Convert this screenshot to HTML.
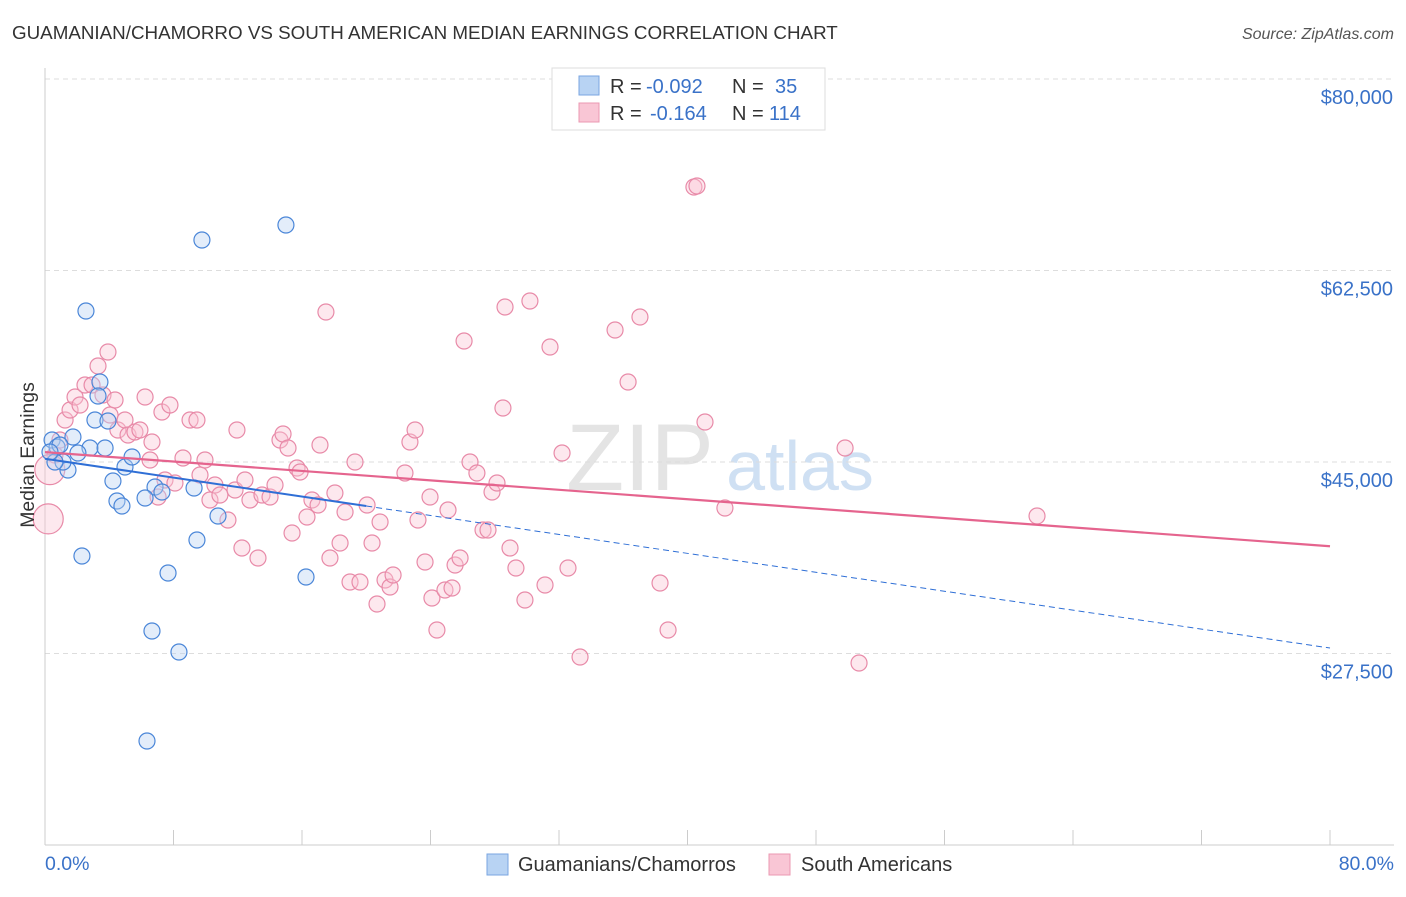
<!DOCTYPE html>
<html><head><meta charset="utf-8"><style>
body{margin:0;background:#fff;font-family:"Liberation Sans",sans-serif;}
svg text{font-family:"Liberation Sans",sans-serif;}
</style></head><body>
<svg id="chart" width="1406" height="892">
<text x="12" y="39" font-size="18.8" fill="#333">GUAMANIAN/CHAMORRO VS SOUTH AMERICAN MEDIAN EARNINGS CORRELATION CHART</text>
<text x="1394" y="39" font-size="16" font-style="italic" fill="#555" text-anchor="end">Source: ZipAtlas.com</text>
<text x="640" y="490" font-size="95" font-family="Liberation Serif" fill="#e4e4e4" text-anchor="middle">ZIP</text>
<text x="800" y="490" font-size="70" fill="#cfe0f3" text-anchor="middle">atlas</text>
<g id="grid"></g><g id="axes"></g><g id="pts"></g><g id="lines"></g>
<text transform="translate(34,455) rotate(-90)" font-size="19.4" fill="#333" text-anchor="middle">Median Earnings</text>
<text x="45" y="870" font-size="19.5" fill="#3a72c8">0.0%</text>
<text x="1394" y="870" font-size="19.5" fill="#3a72c8" text-anchor="end">80.0%</text>
<g>
<rect x="552" y="68" width="273" height="62" fill="#fff" stroke="#ddd"/>
<rect x="579" y="76" width="20" height="19" fill="#b8d3f3" stroke="#7aa6e0"/>
<rect x="579" y="103" width="20" height="19" fill="#f9c6d5" stroke="#eb98b2"/>
<text x="610" y="93" font-size="20" fill="#333">R =<tspan x="646" fill="#3a72c8">-0.092</tspan><tspan x="732">N =</tspan><tspan x="775" fill="#3a72c8">35</tspan></text>
<text x="610" y="120" font-size="20" fill="#333">R =<tspan x="650" fill="#3a72c8">-0.164</tspan><tspan x="732">N =</tspan><tspan x="769" fill="#3a72c8">114</tspan></text>
</g>
<g>
<rect x="487" y="854" width="21" height="21" fill="#b8d3f3" stroke="#7aa6e0"/>
<text x="518" y="871" font-size="20" fill="#333">Guamanians/Chamorros</text>
<rect x="769" y="854" width="21" height="21" fill="#f9c6d5" stroke="#eb98b2"/>
<text x="801" y="871" font-size="20" fill="#333">South Americans</text>
</g>
</svg>
<script>
const yTicks=[80000,62500,45000,27500];
const yTickLabels=["$80,000","$62,500","$45,000","$27,500"];
const xTicks=[0,8,16,24,32,40,48,56,64,72,80];
const bluePx=[[52,440],[57,447],[68,470],[73,437],[63,462],[86,311],[100,382],[95,420],[108,421],[90,448],[78,453],[105,448],[125,467],[113,481],[132,457],[117,501],[122,506],[82,556],[155,487],[162,492],[145,498],[202,240],[286,225],[194,488],[218,516],[197,540],[168,573],[152,631],[179,652],[147,741],[306,577],[98,396],[55,462],[60,445],[50,452]];
const pinkPx=[[55,455],[60,440],[65,420],[70,410],[75,397],[80,405],[85,385],[92,385],[98,366],[108,352],[103,395],[110,415],[115,400],[118,430],[125,420],[128,435],[135,432],[140,430],[145,397],[150,460],[152,442],[162,412],[170,405],[158,497],[165,480],[175,483],[183,458],[190,420],[197,420],[200,475],[205,460],[210,500],[215,485],[220,495],[228,520],[235,490],[237,430],[242,548],[245,480],[250,500],[258,558],[262,495],[270,497],[275,485],[280,440],[283,434],[288,448],[292,533],[297,468],[300,472],[307,517],[312,500],[318,505],[320,445],[326,312],[330,558],[335,493],[340,543],[345,512],[350,582],[355,462],[360,582],[367,505],[372,543],[377,604],[380,522],[385,580],[390,587],[393,575],[405,473],[410,442],[415,430],[418,520],[425,562],[430,497],[432,598],[437,630],[445,590],[448,510],[452,588],[455,565],[460,558],[464,341],[470,462],[477,473],[483,530],[488,530],[492,492],[497,483],[503,408],[505,307],[510,548],[516,568],[525,600],[530,301],[545,585],[550,347],[562,453],[568,568],[580,657],[615,330],[628,382],[640,317],[660,583],[668,630],[694,187],[697,186],[705,422],[725,508],[845,448],[859,663],[1037,516]];
const blueX=bluePx.map(p=>+((p[0]-45)/1285*80).toFixed(2));
const blueY=bluePx.map(p=>Math.round(45000-(p[1]-462)*17500/191.5));
const pinkX=pinkPx.map(p=>+((p[0]-45)/1285*80).toFixed(2));
const pinkY=pinkPx.map(p=>Math.round(45000-(p[1]-462)*17500/191.5));
const bigPinkX=[0.2,0.3];const bigPinkY=[39800,44300];
const blueTrend=[45300,28000];const pinkTrend=[45900,37300];
const blueSolidEnd=20;
const NS="http://www.w3.org/2000/svg";
const sx=v=>45+v/80*1285, sy=v=>462-(v-45000)*191.5/17500;
function mk(t,a,parent){const e=document.createElementNS(NS,t);for(const k in a)e.setAttribute(k,a[k]);document.getElementById(parent).appendChild(e);return e;}
yTicks.forEach((v,i)=>{
 const l=mk('line',{x1:45,x2:1394,y1:sy(v),y2:sy(v),stroke:'#ddd','stroke-dasharray':'5,4'},'grid');
 
 
 const t=mk('text',{x:1393,y:sy(v)+25,'font-size':20,fill:'#3a72c8','text-anchor':'end'},'grid');t.textContent=yTickLabels[i];
 
 
});
mk('line',{x1:45,x2:45,y1:68,y2:845,stroke:'#ccc'},'axes');
mk('line',{x1:45,x2:1394,y1:845,y2:845,stroke:'#ccc'},'axes');
xTicks.forEach(v=>{const l=mk('line',{x1:sx(v),x2:sx(v),y1:830,y2:845,stroke:'#ccc'},'axes');
 
 });
function dot(x,y,r,f,s,name){const c=mk('circle',{cx:sx(x),cy:sy(y),r:r,fill:f,'fill-opacity':0.4,stroke:s,'stroke-width':1.2},'pts');
 
 }
pinkX.forEach((x,i)=>dot(x,pinkY[i],8,'#f9c6d5','#e88aa8','south-american-point'));
bigPinkX.forEach((x,i)=>dot(x,bigPinkY[i],15,'#f9c6d5','#e88aa8','south-american-point'));
blueX.forEach((x,i)=>dot(x,blueY[i],8,'#b8d3f3','#4a86d8','guamanian-point'));
const by=x=>blueTrend[0]+(blueTrend[1]-blueTrend[0])*x/80;
let l=mk('line',{x1:sx(0),y1:sy(by(0)),x2:sx(blueSolidEnd),y2:sy(by(blueSolidEnd)),stroke:'#2f6fd6','stroke-width':2},'lines');


l=mk('line',{x1:sx(blueSolidEnd),y1:sy(by(blueSolidEnd)),x2:sx(80),y2:sy(by(80)),stroke:'#2f6fd6','stroke-width':1,'stroke-dasharray':'6,4'},'lines');


l=mk('line',{x1:sx(0),y1:sy(pinkTrend[0]),x2:sx(80),y2:sy(pinkTrend[1]),stroke:'#e5648e','stroke-width':2.2},'lines');


</script>
</body></html>
